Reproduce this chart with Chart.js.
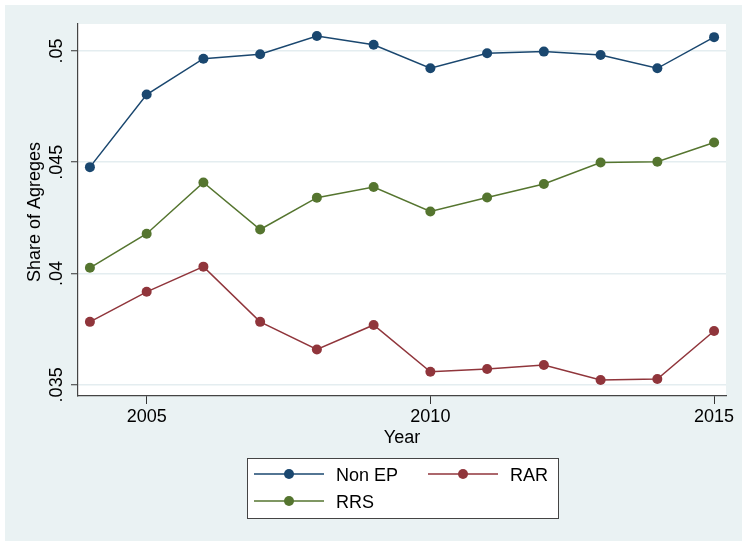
<!DOCTYPE html>
<html>
<head>
<meta charset="utf-8">
<script src="https://cdn.jsdelivr.net/npm/chart.js@4/dist/chart.umd.min.js"></script>
<style>
  body { margin: 0; background: #fff; }
  canvas { display: block; }
</style>
</head>
<body>
<canvas id="chart" width="742" height="541"></canvas>
<script>
// data
const years = [2004, 2005, 2006, 2007, 2008, 2009, 2010, 2011, 2012, 2013, 2014, 2015];
const nonEP = [0.04478, 0.04804, 0.04965, 0.04985, 0.05067, 0.05028, 0.04922, 0.04990, 0.04997, 0.04982, 0.04922, 0.05062];
const rar = [0.03783, 0.03918, 0.04031, 0.03783, 0.03659, 0.03769, 0.03559, 0.03571, 0.03589, 0.03522, 0.03526, 0.03742];
const rrs = [0.04026, 0.04179, 0.04409, 0.04198, 0.04341, 0.04389, 0.04279, 0.04342, 0.04402, 0.04499, 0.04502, 0.04589];
const xTicks = [2005, 2010, 2015];
const yTicks = [0.035, 0.04, 0.045, 0.05];
const yTickLabels = [".035", ".04", ".045", ".05"];
const seriesNames = ["Non EP", "RAR", "RRS"];

const colors = ["#1a476f", "#90353b", "#55752f"];
const bg = "#eaf2f3";
const font = "'Liberation Sans', Arial, Helvetica, sans-serif";

const toPoints = arr => arr.map((v, i) => ({ x: years[i], y: v }));

const line = (label, data, color) => ({
  label,
  data: toPoints(data),
  borderColor: color,
  backgroundColor: color,
  borderWidth: 1.5,
  pointRadius: 5,
  pointBorderWidth: 0,
  pointBackgroundColor: color,
  tension: 0,
  clip: false,
});

// background, rotated y labels, titles and legend box
const stataLook = {
  id: "stataLook",
  beforeDraw(chart) {
    const { ctx, chartArea: a } = chart;
    ctx.save();
    ctx.fillStyle = "#fff";
    ctx.fillRect(0, 0, chart.width, chart.height);
    ctx.fillStyle = bg;
    ctx.fillRect(5, 5, chart.width - 5, chart.height - 5);
    ctx.fillStyle = "#fff";
    ctx.fillRect(a.left, a.top, a.right - a.left, a.bottom - a.top);
    ctx.restore();
  },
  afterDraw(chart) {
    const { ctx, chartArea: a } = chart;
    const xs = chart.scales.x, ys = chart.scales.y;
    ctx.save();
    ctx.fillStyle = "#000";
    ctx.font = "18px " + font;

    // y tick labels, reading bottom to top
    ctx.textAlign = "center";
    ctx.textBaseline = "alphabetic";
    yTicks.forEach((v, i) => {
      ctx.save();
      ctx.translate(61.5, ys.getPixelForValue(v));
      ctx.rotate(-Math.PI / 2);
      ctx.fillText(yTickLabels[i], 0, 0);
      ctx.restore();
    });

    // x tick labels
    xTicks.forEach(v => {
      ctx.fillText(String(v), xs.getPixelForValue(v), 421.5);
    });

    // axis titles
    ctx.fillText("Year", (a.left + a.right) / 2, 442.5);
    ctx.save();
    ctx.translate(40, 212);
    ctx.rotate(-Math.PI / 2);
    ctx.fillText("Share of Agreges", 0, 0);
    ctx.restore();

    // legend
    ctx.fillStyle = "#fff";
    ctx.fillRect(247, 458, 311, 60);
    ctx.strokeStyle = "#444";
    ctx.lineWidth = 1;
    ctx.strokeRect(247.5, 458.5, 311, 60);
    const slots = [[254, 474], [428, 474], [254, 501]];
    ctx.textAlign = "left";
    seriesNames.forEach((name, i) => {
      const [x, y] = slots[i];
      ctx.strokeStyle = colors[i];
      ctx.lineWidth = 1.5;
      ctx.beginPath();
      ctx.moveTo(x, y);
      ctx.lineTo(x + 70, y);
      ctx.stroke();
      ctx.fillStyle = colors[i];
      ctx.beginPath();
      ctx.arc(x + 35, y, 5, 0, Math.PI * 2);
      ctx.fill();
      ctx.fillStyle = "#000";
      ctx.fillText(name, x + 82, y + 6.5);
    });
    ctx.restore();
  },
};

new Chart(document.getElementById("chart").getContext("2d"), {
  type: "line",
  data: {
    datasets: [
      line(seriesNames[0], nonEP, colors[0]),
      line(seriesNames[1], rar, colors[1]),
      line(seriesNames[2], rrs, colors[2]),
    ],
  },
  options: {
    responsive: false,
    animation: false,
    layout: { padding: { left: 71, top: 24, right: 16, bottom: 137 } },
    plugins: { legend: { display: false }, tooltip: { enabled: false } },
    scales: {
      x: {
        type: "linear",
        min: 2003.79,
        max: 2015.21,
        afterBuildTicks: s => { s.ticks = xTicks.map(v => ({ value: v })); },
        afterFit: s => { s.height = 8; },
        ticks: { display: false },
        grid: { drawOnChartArea: false, color: "rgba(0,0,0,0)", tickColor: "#333", tickLength: 8, tickWidth: 1 },
        border: { color: "#444", width: 1.2 },
      },
      y: {
        min: 0.0345,
        max: 0.05121,
        afterBuildTicks: s => { s.ticks = yTicks.map(v => ({ value: v })); },
        afterFit: s => { s.width = 7; },
        ticks: { display: false },
        grid: { color: "#e4edf0", lineWidth: 1.5, tickColor: "#333", tickLength: 7, tickWidth: 1 },
        border: { color: "#444", width: 1.2 },
      },
    },
  },
  plugins: [stataLook],
});
</script>
</body>
</html>
